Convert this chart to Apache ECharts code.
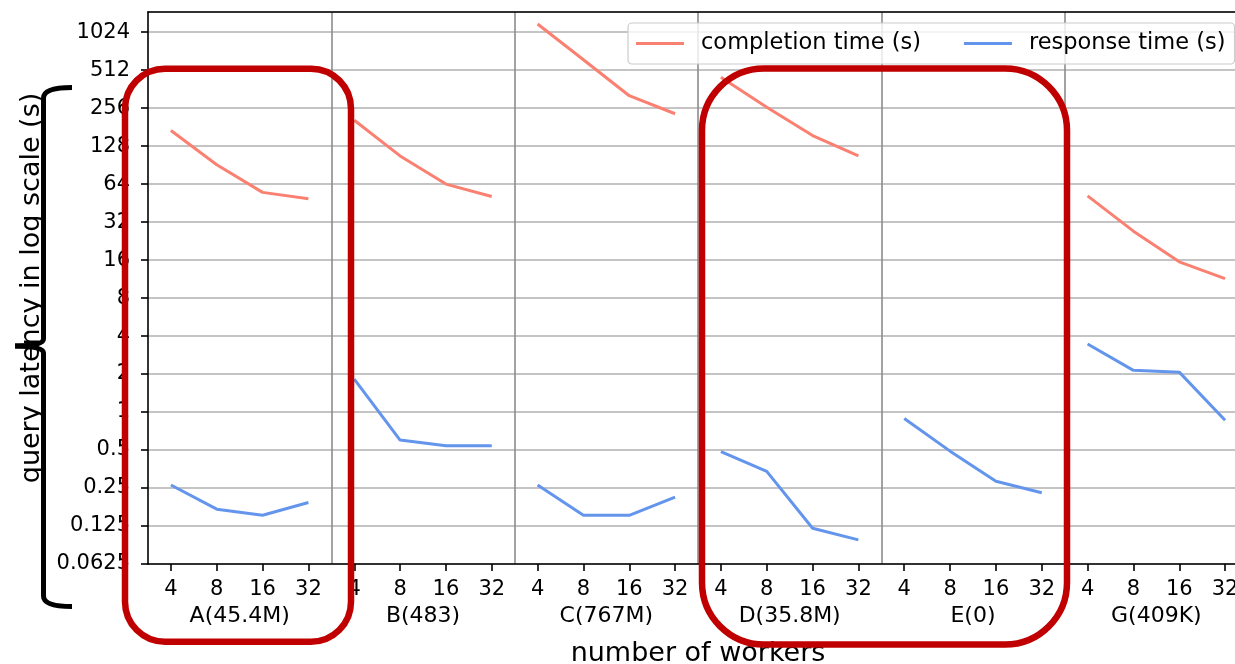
<!DOCTYPE html>
<html>
<head>
<meta charset="utf-8">
<script src="https://cdn.jsdelivr.net/npm/echarts@6/dist/echarts.min.js"></script>
<style>
  html, body { margin: 0; padding: 0; background: #fff; }
  #chart { width: 1235px; height: 664px; }
</style>
</head>
<body>
<div id="chart"></div>
<script>
// ---- data ----
const groups = ['A(45.4M)', 'B(483)', 'C(767M)', 'D(35.8M)', 'E(0)', 'G(409K)'];
const workers = ['4', '8', '16', '32'];
const yTickValues = [0.0625, 0.125, 0.25, 0.5, 1, 2, 4, 8, 16, 32, 64, 128, 256, 512, 1024];

const completionA = [170, 91, 55, 49];
const completionB = [205, 107, 64, 51];
const completionC = [1188, 618, 321, 231];
const completionD = [450, 260, 155, 107];
const completionE = [null, null, null, null];
const completionG = [51.6, 27.1, 15.5, 11.4];

const responseA = [0.264, 0.170, 0.152, 0.192];
const responseB = [1.82, 0.60, 0.54, 0.54];
const responseC = [0.264, 0.152, 0.152, 0.212];
const responseD = [0.485, 0.339, 0.120, 0.097];
const responseE = [0.89, 0.49, 0.283, 0.229];
const responseG = [3.46, 2.14, 2.07, 0.86];

const completionName = 'completion time (s)';
const responseName = 'response time (s)';
const completionColor = '#fa8072';
const responseColor = '#6495ed';

const completionByGroup = [completionA, completionB, completionC, completionD, completionE, completionG];
const responseByGroup = [responseA, responseB, responseC, responseD, responseE, responseG];

// ---- build options ----
const categories = [];
groups.forEach(() => workers.forEach(w => categories.push(w)));

function spread(groupIndex, values) {
  const arr = new Array(categories.length).fill(null);
  values.forEach((v, i) => { arr[groupIndex * workers.length + i] = v; });
  return arr;
}

const series = [];
groups.forEach((g, gi) => {
  series.push({
    name: completionName, type: 'line', xAxisIndex: 0, yAxisIndex: 0,
    data: spread(gi, completionByGroup[gi]), symbol: 'none', connectNulls: false,
    lineStyle: { color: completionColor, width: 3 }, itemStyle: { color: completionColor },
    silent: true, z: 3
  });
  series.push({
    name: responseName, type: 'line', xAxisIndex: 0, yAxisIndex: 0,
    data: spread(gi, responseByGroup[gi]), symbol: 'none', connectNulls: false,
    lineStyle: { color: responseColor, width: 3 }, itemStyle: { color: responseColor },
    silent: true, z: 3
  });
});

const FONT = 'DejaVu Sans';
const gridBox = { left: 148, top: 12, width: 1100, height: 552, outerBoundsMode: 'none', containLabel: false };

const annotationStroke = { fill: 'none', stroke: '#000', lineWidth: 5 };

const option = {
  animation: false,
  backgroundColor: '#fff',
  textStyle: { fontFamily: FONT, color: '#000' },
  legend: {
    data: [completionName, responseName],
    left: 628, top: 23,
    icon: 'rect', itemWidth: 48, itemHeight: 3, itemGap: 43,
    padding: [9, 9, 9, 8],
    backgroundColor: 'rgba(255,255,255,0.8)',
    borderColor: '#cccccc', borderWidth: 1.2, borderRadius: 4,
    textStyle: { fontFamily: FONT, fontSize: 22.5, color: '#000', padding: [0, 0, 0, 12] }
  },
  grid: [Object.assign({}, gridBox), Object.assign({}, gridBox)],
  xAxis: [
    {
      gridIndex: 0, type: 'category', data: categories, position: 'bottom', boundaryGap: true,
      axisLine: { show: true, lineStyle: { color: '#000', width: 1.6 } },
      axisTick: { show: true, alignWithLabel: true, interval: 0, length: 7, lineStyle: { color: '#000', width: 1.6 } },
      axisLabel: { interval: 0, fontSize: 21, fontFamily: FONT, color: '#000', margin: 15 },
      splitLine: {
        show: true,
        interval: function (index) { return index > 0 && index % workers.length === 0; },
        lineStyle: { color: '#8c8c8c', width: 1.6 }
      }
    },
    {
      gridIndex: 1, type: 'category', data: groups, position: 'bottom', boundaryGap: true,
      axisLine: { show: false }, axisTick: { show: false }, splitLine: { show: false },
      axisLabel: { interval: 0, fontSize: 22, fontFamily: FONT, color: '#000', margin: 41 },
      name: 'number of workers', nameLocation: 'middle', nameGap: 76,
      nameTextStyle: { fontSize: 27, fontFamily: FONT, color: '#000' }
    },
    {
      gridIndex: 0, type: 'category', data: categories, position: 'top',
      axisLine: { show: true, lineStyle: { color: '#000', width: 1.6 } },
      axisTick: { show: false }, axisLabel: { show: false }, splitLine: { show: false }
    }
  ],
  yAxis: [
    {
      gridIndex: 0, type: 'log', logBase: 2, min: 0.0625, max: 1478, interval: 1,
      axisLine: { show: true, lineStyle: { color: '#000', width: 1.6 } },
      axisTick: { show: true, length: 7, lineStyle: { color: '#000', width: 1.6 } },
      axisLabel: {
        fontSize: 21, fontFamily: FONT, color: '#000', margin: 18, showMaxLabel: false,
        formatter: function (v) {
          for (const t of yTickValues) { if (Math.abs(v - t) / t < 1e-6) return String(t); }
          return '';
        }
      },
      splitLine: { show: true, lineStyle: { color: '#b0b0b0', width: 1.6 } },
      name: 'query latency in log scale (s)', nameLocation: 'middle', nameGap: 100, nameRotate: 90,
      nameTextStyle: { fontSize: 27, fontFamily: FONT, color: '#000' }
    },
    { gridIndex: 1, type: 'value', show: false }
  ],
  series: series,
  graphic: [
    {
      type: 'rect', z: 100, silent: true,
      shape: { x: 125, y: 68.7, width: 226, height: 573, r: 40 },
      style: { fill: 'none', stroke: '#c00000', lineWidth: 6.5 }
    },
    {
      type: 'rect', z: 100, silent: true,
      shape: { x: 702, y: 68.5, width: 365, height: 576, r: 62 },
      style: { fill: 'none', stroke: '#c00000', lineWidth: 6.5 }
    },
    { type: 'bezierCurve', z: 100, silent: true, shape: { x1: 72, y1: 87.5, cpx1: 43.5, cpy1: 87.5, x2: 43.5, y2: 98 }, style: annotationStroke },
    { type: 'line', z: 100, silent: true, shape: { x1: 43.5, y1: 98, x2: 43.5, y2: 339 }, style: annotationStroke },
    { type: 'bezierCurve', z: 100, silent: true, shape: { x1: 43.5, y1: 339, cpx1: 43.5, cpy1: 346, x2: 15, y2: 346 }, style: annotationStroke },
    { type: 'bezierCurve', z: 100, silent: true, shape: { x1: 15, y1: 346, cpx1: 43.5, cpy1: 346, x2: 43.5, y2: 353 }, style: annotationStroke },
    { type: 'line', z: 100, silent: true, shape: { x1: 43.5, y1: 353, x2: 43.5, y2: 596 }, style: annotationStroke },
    { type: 'bezierCurve', z: 100, silent: true, shape: { x1: 43.5, y1: 596, cpx1: 43.5, cpy1: 606.5, x2: 72, y2: 606.5 }, style: annotationStroke }
  ]
};

const chart = echarts.init(document.getElementById('chart'), null, { renderer: 'canvas' });
chart.setOption(option);
</script>
</body>
</html>
